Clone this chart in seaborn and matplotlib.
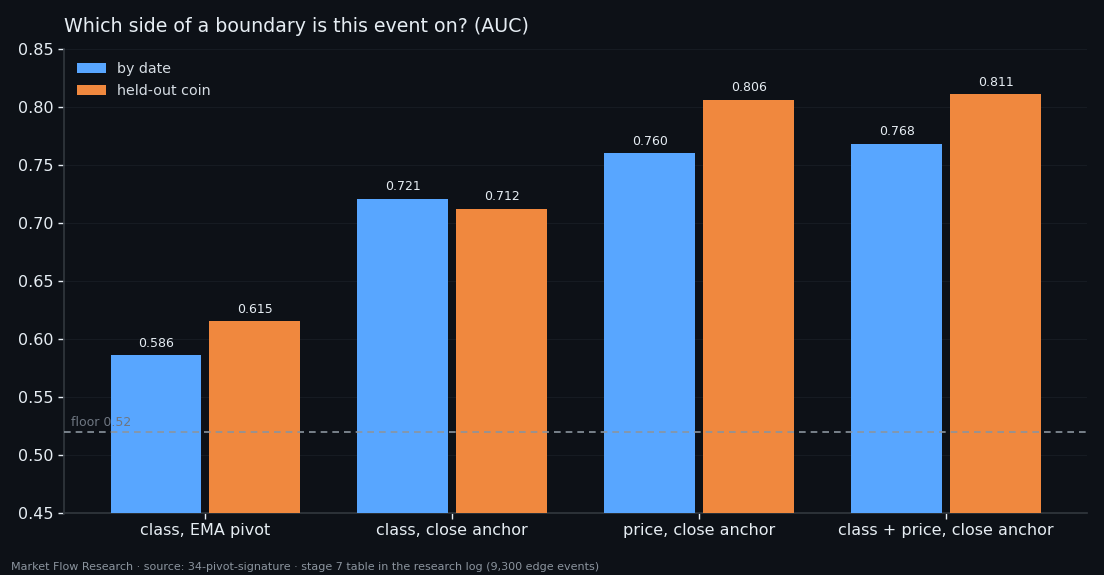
import matplotlib
matplotlib.use("Agg")
import matplotlib.pyplot as plt
import pandas as pd
import seaborn as sns

# data
feature_sets = [
    "class, EMA pivot",
    "class, close anchor",
    "price, close anchor",
    "class + price, close anchor",
]
split_names = ["by date", "held-out coin"]
auc_by_date = [0.586, 0.721, 0.760, 0.768]
auc_held_out = [0.615, 0.712, 0.806, 0.811]
floor_auc = 0.52

BG = "#0d1117"
TEXT = "#e6edf3"
MUTED = "#8b949e"
GRID = "#161b22"
SPINE = "#30363d"
palette = {"by date": "#58a6ff", "held-out coin": "#f0883e"}

df = pd.DataFrame({
    "features": feature_sets * 2,
    "split": [split_names[0]] * 4 + [split_names[1]] * 4,
    "auc": auc_by_date + auc_held_out,
})

sns.set_theme(style="dark")
plt.rcParams["font.family"] = ["DejaVu Sans"]

fig, ax = plt.subplots(figsize=(11.04, 5.75), dpi=100)
fig.patch.set_facecolor(BG)
ax.set_facecolor(BG)

sns.barplot(
    data=df,
    x="features",
    y="auc",
    hue="split",
    palette=palette,
    saturation=1,
    width=0.8,
    gap=0.081,
    linewidth=0,
    ax=ax,
    zorder=3,
)

for container in ax.containers:
    ax.bar_label(container, fmt="%.3f", padding=4, color=TEXT, fontsize=9)

ax.axhline(floor_auc, color="#8b949e", linestyle=(0, (4, 3)), linewidth=1.2, zorder=4)
ax.text(-0.545, floor_auc + 0.0025, f"floor {floor_auc:.2f}", color="#6e7681",
        fontsize=9, va="bottom", ha="left")

ax.set_ylim(0.45, 0.85)
ax.set_xlim(-0.572, 3.572)
ax.set_yticks([0.45, 0.50, 0.55, 0.60, 0.65, 0.70, 0.75, 0.80, 0.85])
ax.yaxis.set_major_formatter(matplotlib.ticker.FormatStrFormatter("%.2f"))
ax.grid(axis="y", color=GRID, linewidth=0.8, zorder=0)
ax.grid(axis="x", visible=False)

ax.set_xlabel("")
ax.set_ylabel("")
ax.tick_params(axis="both", colors=TEXT, labelsize=11.5, length=4, width=1,
               left=True, bottom=True)

for side in ["top", "right"]:
    ax.spines[side].set_visible(False)
for side in ["left", "bottom"]:
    ax.spines[side].set_visible(True)
    ax.spines[side].set_color(SPINE)

ax.set_title("Which side of a boundary is this event on? (AUC)", loc="left",
             color=TEXT, fontsize=13.7, pad=12)

leg = ax.legend(loc="upper left", frameon=False, fontsize=10.3,
                handlelength=2, handleheight=0.7, labelspacing=0.55,
                borderaxespad=0.5, handletextpad=0.8)
for t in leg.get_texts():
    t.set_color("#d6dde4")

fig.text(0.01, 0.005, "Market Flow Research · source: 34-pivot-signature · stage 7 table in the research log (9,300 edge events)",
         color=MUTED, fontsize=8, ha="left", va="bottom")

plt.subplots_adjust(left=0.058, right=0.985, top=0.915, bottom=0.108)
fig.savefig("out.png", dpi=100, facecolor=BG)
